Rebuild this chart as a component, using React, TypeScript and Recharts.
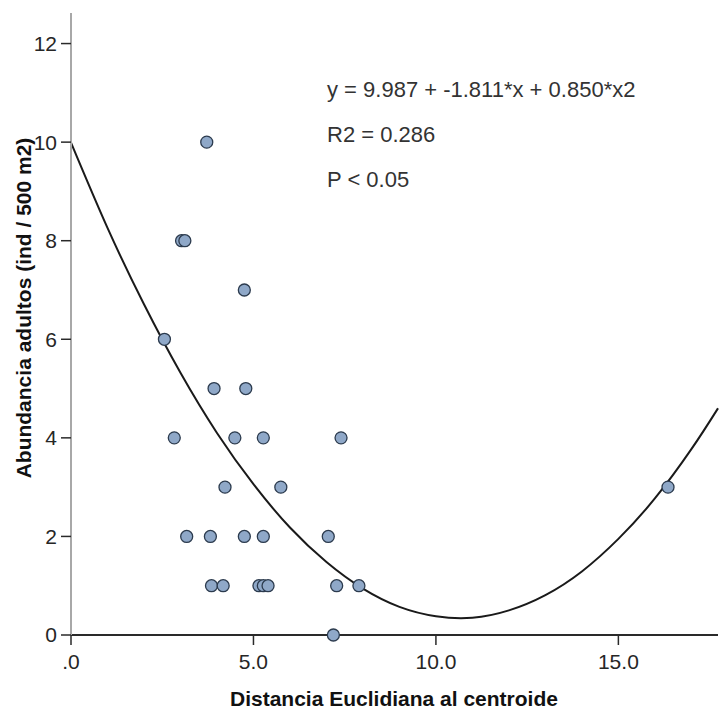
import { ComposedChart, Scatter, Line, XAxis, YAxis } from "recharts"

// puntos observados
const distancia = [
  3.72, 3.03, 3.12, 4.75, 2.56, 3.92, 4.79, 2.83, 4.49, 5.27, 7.4, 4.22, 5.75, 3.17,
  3.82, 4.75, 5.27, 7.05, 3.85, 4.17, 5.15, 5.27, 5.4, 7.28, 7.89, 7.19, 16.36,
]
const abundancia = [
  10, 8, 8, 7, 6, 5, 5, 4, 4, 4, 4, 3, 3, 2, 2, 2, 2, 2, 1, 1, 1, 1, 1, 1, 1, 0, 3,
]

// curva de ajuste
const curvaX = [0, 1, 2, 3, 4, 5, 6, 7, 8, 9, 10, 11, 12, 13, 14, 15, 16, 17, 17.73]
const curvaY = [
  9.99, 8.26, 6.71, 5.32, 4.1, 3.06, 2.18, 1.48, 0.94, 0.57, 0.38, 0.35, 0.5, 0.81,
  1.29, 1.95, 2.77, 3.77, 4.6,
]

const xTicks = [0, 5, 10, 15]
const xTickLabels = [".0", "5.0", "10.0", "15.0"]
const yTicks = [0, 2, 4, 6, 8, 10, 12]

const anotaciones = ["y = 9.987 + -1.811*x + 0.850*x2", "R2 = 0.286", "P < 0.05"]

const puntos = distancia.map((x, i) => ({ x, y: abundancia[i] }))
const curva = curvaX.map((x, i) => ({ x, y: curvaY[i] }))

const font = '"Liberation Sans", Arial, sans-serif'

const Punto = (props: any) => {
  const { cx, cy } = props
  if (cx == null || cy == null) return null
  return <circle cx={cx} cy={cy} r={6} fill="#8fa8c8" stroke="#2c3b4e" strokeWidth={1.3} />
}

export default function App() {
  return (
    <div style={{ position: "absolute", left: 0, top: 0, width: 719, height: 710, background: "#fff" }}>
      <ComposedChart width={719} height={710} margin={{ top: 13, right: 1, left: 11, bottom: 35 }}>
        <XAxis
          type="number"
          dataKey="x"
          domain={[0, 17.73]}
          ticks={xTicks}
          tickFormatter={(v: number) => xTickLabels[xTicks.indexOf(v)] ?? String(v)}
          height={40}
          tickSize={10}
          tickMargin={9}
          axisLine={{ stroke: "#2a2a2a", strokeWidth: 2 }}
          tickLine={{ stroke: "#2a2a2a", strokeWidth: 1.5 }}
          tick={{ fill: "#262626", fontSize: 21, fontFamily: font }}
        />
        <YAxis
          type="number"
          dataKey="y"
          domain={[0, 12.62]}
          ticks={yTicks}
          width={60}
          tickSize={10}
          tickMargin={4}
          axisLine={{ stroke: "#a8a8a8", strokeWidth: 2 }}
          tickLine={{ stroke: "#2a2a2a", strokeWidth: 1.5 }}
          tick={{ fill: "#262626", fontSize: 21, fontFamily: font }}
        />
        <Line
          data={curva}
          dataKey="y"
          type="natural"
          stroke="#1a1a1a"
          strokeWidth={2}
          dot={false}
          activeDot={false}
          isAnimationActive={false}
        />
        <Scatter data={puntos} dataKey="y" shape={Punto} isAnimationActive={false} />
      </ComposedChart>
      <svg
        width={719}
        height={710}
        style={{ position: "absolute", left: 0, top: 0, pointerEvents: "none" }}
      >
        {anotaciones.map((t, i) => (
          <text key={t} x={327} y={97 + i * 45} fontSize={22} fontFamily={font} fill="#333">
            {t}
          </text>
        ))}
        <text
          x={394}
          y={706}
          textAnchor="middle"
          fontSize={21}
          fontWeight="bold"
          fontFamily={font}
          fill="#111"
        >
          Distancia Euclidiana al centroide
        </text>
        <text
          transform="translate(31,308) rotate(-90)"
          textAnchor="middle"
          fontSize={21}
          fontWeight="bold"
          fontFamily={font}
          fill="#111"
        >
          Abundancia adultos (ind / 500 m2)
        </text>
      </svg>
    </div>
  )
}
